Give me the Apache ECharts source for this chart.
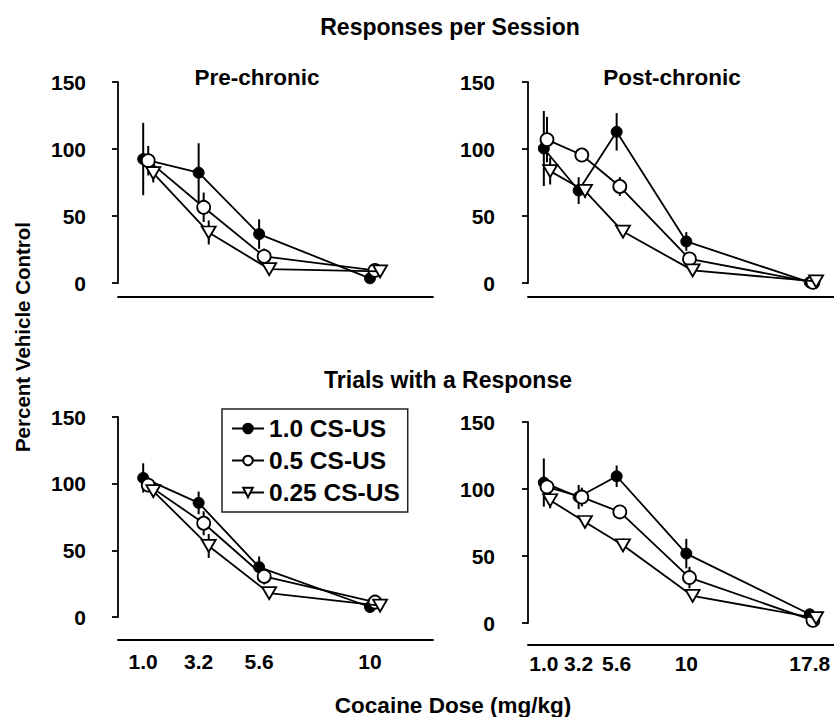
<!DOCTYPE html>
<html><head><meta charset="utf-8">
<script src="https://cdn.jsdelivr.net/npm/echarts@6/dist/echarts.min.js"></script>
<style>html,body{margin:0;padding:0;background:#fff}#c{width:834px;height:717px}</style>
</head><body><div id="c"></div>
<script>
// ---------- DATA ----------
const seriesNames = ['1.0 CS-US', '0.5 CS-US', '0.25 CS-US'];
const dosesPre = [1.0, 3.2, 5.6, 10];
const dosesPost = [1.0, 3.2, 5.6, 10, 17.8];
const tickLabelsPre = ['1.0', '3.2', '5.6', '10'];
const tickLabelsPost = ['1.0', '3.2', '5.6', '10', '17.8'];

// Responses per Session, Pre-chronic
const respPre_10 = [92.5, 82.3, 36.5, 3.5];
const respPre_10_err = [27, 22, 11, 1];
const respPre_05 = [91.3, 56.5, 19.8, 9.4];
const respPre_05_err = [11, 11, 6, 2];
const respPre_025 = [82, 37.7, 10.4, 8.7];
const respPre_025_err = [7, 9, 3, 2];

// Responses per Session, Post-chronic
const respPost_10 = [100.4, 69, 112.8, 31, 0.5];
const respPost_10_err = [28, 10, 14, 7, 0];
const respPost_05 = [107, 95.5, 72, 18, 0.5];
const respPost_05_err = [17, 5, 7, 4, 0];
const respPost_025 = [83.5, 68.7, 38.4, 9.4, 1.2];
const respPost_025_err = [10, 5, 4, 2, 0];

// Trials with a Response, Pre-chronic
const trialPre_10 = [104.3, 85.6, 37.4, 7.5];
const trialPre_10_err = [11, 8.5, 8, 1];
const trialPre_05 = [98.9, 70.3, 30.4, 11.2];
const trialPre_05_err = [3, 9, 6, 3];
const trialPre_025 = [94.4, 53.3, 17.9, 8.5];
const trialPre_025_err = [3, 9, 4, 2];

// Trials with a Response, Post-chronic
const trialPost_10 = [104.8, 94, 109.5, 51.8, 6.5];
const trialPost_10_err = [18, 9, 8, 11, 1];
const trialPost_05 = [101.6, 94, 82.9, 33.9, 2];
const trialPost_05_err = [4, 7, 2, 8, 1];
const trialPost_025 = [91.6, 75.4, 58, 20.2, 3.7];
const trialPost_025_err = [6, 4, 5, 2, 1];

// ---------- LAYOUT / STYLE ----------
const FONT = '"Liberation Sans", Arial, Helvetica, sans-serif';
const seriesJitter = [0, 0.2, 0.4]; // horizontal nudge of each series (dose units), as in the figure

const panels = [
  {doses: dosesPre, labels: tickLabelsPre, vals: [respPre_10, respPre_05, respPre_025], errs: [respPre_10_err, respPre_05_err, respPre_025_err],
   grid: {left: 118, top: 82, width: 315, height: 201}, xmax: 12.5, yOffset: 24, xOffset: 14, showLabels: false, labelMargin: 12},
  {doses: dosesPost, labels: tickLabelsPost, vals: [respPost_10, respPost_05, respPost_025], errs: [respPost_10_err, respPost_05_err, respPost_025_err],
   grid: {left: 528, top: 82, width: 306, height: 201}, xmax: 19.33, yOffset: 25, xOffset: 14, showLabels: false, labelMargin: 8},
  {doses: dosesPre, labels: tickLabelsPre, vals: [trialPre_10, trialPre_05, trialPre_025], errs: [trialPre_10_err, trialPre_05_err, trialPre_025_err],
   grid: {left: 118, top: 417, width: 315, height: 200}, xmax: 12.5, yOffset: 24, xOffset: 23, showLabels: true, labelMargin: 11},
  {doses: dosesPost, labels: tickLabelsPost, vals: [trialPost_10, trialPost_05, trialPost_025], errs: [trialPost_10_err, trialPost_05_err, trialPost_025_err],
   grid: {left: 528, top: 422, width: 306, height: 201}, xmax: 19.33, yOffset: 25, xOffset: 22, showLabels: true, labelMargin: 8}
];

const markerStyles = [
  {symbol: 'circle', symbolSize: 11, symbolRotate: 0, itemStyle: {color: '#000', borderColor: '#000', borderWidth: 1}},
  {symbol: 'circle', symbolSize: 13, symbolRotate: 0, itemStyle: {color: '#fff', borderColor: '#000', borderWidth: 1.8}},
  {symbol: 'triangle', symbolSize: [14, 12], symbolRotate: 180, itemStyle: {color: '#fff', borderColor: '#000', borderWidth: 1.8}}
];

const grids = [], xAxes = [], yAxes = [], lineSeries = [], errSeries = [];
panels.forEach((p, pi) => {
  grids.push(Object.assign({containLabel: false}, p.grid));
  xAxes.push({
    type: 'value', gridIndex: pi, min: 0, max: p.xmax, offset: p.xOffset,
    axisLine: {show: true, onZero: false, lineStyle: {color: '#000', width: 1.8}},
    axisTick: {show: false},
    splitLine: {show: false},
    axisLabel: {
      show: p.showLabels, customValues: p.doses, margin: p.labelMargin,
      fontSize: 21, fontWeight: 'bold', color: '#000', fontFamily: FONT,
      formatter: v => { const i = p.doses.indexOf(v); return i >= 0 ? p.labels[i] : ''; }
    }
  });
  yAxes.push({
    type: 'value', gridIndex: pi, min: 0, max: 150, interval: 50, offset: p.yOffset,
    axisLine: {show: true, lineStyle: {color: '#000', width: 1.8}},
    axisTick: {show: true, inside: false, length: 6, lineStyle: {color: '#000', width: 1.8}},
    splitLine: {show: false},
    axisLabel: {margin: 8, fontSize: 21, fontWeight: 'bold', color: '#000', fontFamily: FONT}
  });
  for (let s = 0; s < 3; s++) {
    const ms = markerStyles[s];
    lineSeries.push({
      type: 'line', name: seriesNames[s], xAxisIndex: pi, yAxisIndex: pi,
      data: p.doses.map((d, i) => [d + seriesJitter[s], p.vals[s][i]]),
      symbol: ms.symbol, symbolSize: ms.symbolSize, symbolRotate: ms.symbolRotate,
      showAllSymbol: true, itemStyle: ms.itemStyle,
      lineStyle: {color: '#000', width: 1.8}, z: 3 + s, animation: false, silent: true
    });
    errSeries.push({
      type: 'custom', name: seriesNames[s] + ' SEM', xAxisIndex: pi, yAxisIndex: pi,
      data: p.doses.map((d, i) => [d + seriesJitter[s], p.vals[s][i] - p.errs[s][i], p.vals[s][i] + p.errs[s][i]]),
      encode: {x: 0, y: [1, 2]},
      renderItem: (params, api) => {
        const a = api.coord([api.value(0), api.value(1)]);
        const b = api.coord([api.value(0), api.value(2)]);
        return {type: 'line', shape: {x1: a[0], y1: a[1], x2: b[0], y2: b[1]}, style: {stroke: '#000', lineWidth: 2}};
      },
      z: 2, animation: false, silent: true
    });
  }
});

function txt(text, x, y, size, rot) {
  return {type: 'text', x: x, y: y, rotation: rot || 0, silent: true,
    style: {text: text, fill: '#000', font: 'bold ' + size + 'px ' + FONT, textAlign: 'center', textVerticalAlign: 'middle'}};
}

const chart = echarts.init(document.getElementById('c'), null, {renderer: 'svg'});
chart.setOption({
  animation: false,
  backgroundColor: '#fff',
  grid: grids, xAxis: xAxes, yAxis: yAxes,
  legend: {
    orient: 'vertical', left: 222, top: 409, padding: [7, 8, 7, 9], itemGap: 7,
    itemWidth: 32, itemHeight: 12, borderColor: '#222', borderWidth: 1.5, backgroundColor: '#fff',
    selectedMode: false, data: seriesNames,
    textStyle: {fontSize: 24.5, fontWeight: 'bold', color: '#000', fontFamily: FONT}
  },
  graphic: [
    txt('Responses per Session', 450, 27, 23),
    txt('Pre-chronic', 257, 77, 22.5),
    txt('Post-chronic', 672, 77, 22.5),
    txt('Trials with a Response', 448, 380, 23),
    txt('Percent Vehicle Control', 22, 337, 20.5, Math.PI / 2),
    txt('Cocaine Dose (mg/kg)', 453, 705, 22.5)
  ],
  series: lineSeries.concat(errSeries)
});
</script></body></html>
